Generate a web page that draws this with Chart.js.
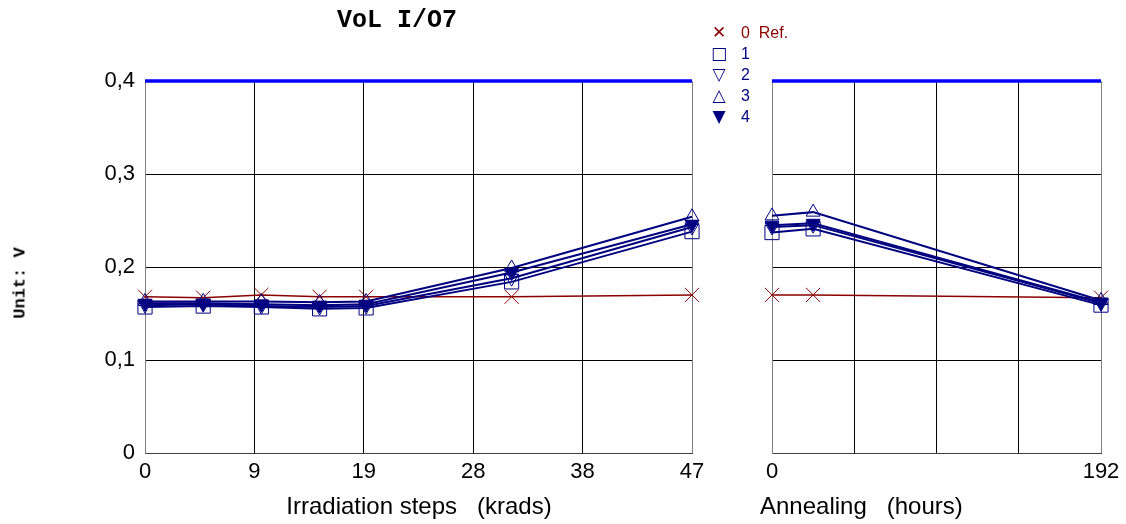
<!DOCTYPE html>
<html>
<head>
<meta charset="utf-8">
<script src="https://cdn.jsdelivr.net/npm/chart.js@4/dist/chart.umd.min.js"></script>
<style>
  body { margin: 0; background: #fff; width: 1126px; height: 524px; position: relative; overflow: hidden; }
  canvas { position: absolute; top: 0; }
  #left { left: 0; }
  #right { left: 730px; }
  #title { position: absolute; left: 337px; top: 6px; font: bold 25px "Liberation Mono", monospace; color: #000; white-space: pre; }
  .xt { position: absolute; top: 492px; font: 24px "Liberation Sans", Arial, sans-serif; color: #000; white-space: pre; line-height: 28px; }
  #xtLeft { left: 419px; transform: translateX(-50%); }
  #xtRight { left: 760px; }
  #ytitle { position: absolute; left: 20px; top: 283px; transform: translate(-50%, -50%) rotate(-90deg); font: bold 17px "Liberation Mono", monospace; white-space: pre; }
  #legend { position: absolute; left: 708px; top: 22px; font: 16px "Liberation Sans", Arial, sans-serif; }
  #legend div { height: 21px; line-height: 21px; white-space: pre; }
  #legend span.m { display: inline-block; width: 22px; text-align: center; font-family: "DejaVu Sans"; font-size: 17px; }
  #legend span.t { display: inline-block; margin-left: 11px; }
</style>
</head>
<body>
<canvas id="left" width="730" height="524"></canvas>
<canvas id="right" width="396" height="524"></canvas>
<div id="title">VoL I/O7</div>
<div id="ytitle">Unit: V</div>
<div class="xt" id="xtLeft">Irradiation steps   (krads)</div>
<div class="xt" id="xtRight">Annealing   (hours)</div>
<div id="legend"></div>
<script>
// x positions
const irrSteps = [0, 5, 10, 15, 19, 31.5, 47]
const annealHours = [0, 24, 192]

// tick labels
const irrTickLabels = ['0', '9', '19', '28', '38', '47']
const annealTickLabels = ['0', '', '', '', '192']
const yTickLabels = ['0', '0,1', '0,2', '0,3', '0,4']

// limit line
const limit = 0.4

// series, irradiation part
const refIrr = [0.168, 0.167, 0.170, 0.168, 0.168, 0.168, 0.170]
const s1Irr = [0.157, 0.158, 0.157, 0.155, 0.156, 0.184, 0.238]
const s2Irr = [0.159, 0.160, 0.158, 0.157, 0.158, 0.188, 0.243]
const s3Irr = [0.163, 0.163, 0.163, 0.162, 0.163, 0.199, 0.254]
const s4Irr = [0.161, 0.161, 0.160, 0.159, 0.160, 0.194, 0.246]

// series, annealing part
const refAnn = [0.170, 0.170, 0.167]
const s1Ann = [0.237, 0.241, 0.159]
const s2Ann = [0.243, 0.245, 0.161]
const s3Ann = [0.255, 0.259, 0.164]
const s4Ann = [0.245, 0.247, 0.162]

const seriesNames = ['0  Ref.', '1', '2', '3', '4']

const RED = '#8b0000'
const NAVY = '#000080'

const styles = [
  { color: RED, pointStyle: 'crossRot', radius: 10, rotation: 0, fill: 'transparent', width: 1.5, glyph: '\u2715' },
  { color: NAVY, pointStyle: 'rect', radius: 10, rotation: 0, fill: 'transparent', width: 2, glyph: '\u25a1' },
  { color: NAVY, pointStyle: 'triangle', radius: 8, rotation: 180, fill: 'transparent', width: 2, glyph: '\u25bd' },
  { color: NAVY, pointStyle: 'triangle', radius: 8, rotation: 0, fill: 'transparent', width: 2, glyph: '\u25b3' },
  { color: NAVY, pointStyle: 'triangle', radius: 8, rotation: 180, fill: NAVY, width: 2, glyph: '\u25bc' }
]

function pts(xs, ys) {
  return xs.map((x, i) => ({ x: x, y: ys[i] }))
}

function makeSets(xs, list, xmax) {
  var sets = list.map((ys, i) => {
    var s = styles[i]
    return {
      data: pts(xs, ys),
      borderColor: s.color,
      borderWidth: s.width,
      pointStyle: s.pointStyle,
      pointRadius: s.radius,
      pointRotation: s.rotation,
      pointBackgroundColor: s.fill,
      pointBorderColor: s.color,
      pointBorderWidth: 1,
      tension: 0,
      clip: false,
      order: 5 - i
    }
  })
  sets.push({
    data: [{ x: 0, y: limit }, { x: xmax, y: limit }],
    borderColor: '#0000ff',
    borderWidth: 3.5,
    pointRadius: 0,
    clip: false,
    order: 10
  })
  return sets
}

const tickFont = { family: '"Liberation Sans", Arial, sans-serif', size: 22 }

function yScale(showLabels) {
  return {
    type: 'linear',
    min: 0,
    max: 0.4,
    afterBuildTicks: s => { s.ticks = [0, 0.1, 0.2, 0.3, 0.4].map(v => ({ value: v })) },
    afterFit: s => { s.width = showLabels ? 145 : 0 },
    ticks: {
      display: showLabels,
      padding: 10,
      color: '#000',
      font: tickFont,
      callback: (v, i) => yTickLabels[i]
    },
    grid: { color: '#000', lineWidth: 1, drawTicks: false },
    border: { display: true, color: '#808080', width: 1 }
  }
}

function xScale(max, tickVals, labels) {
  return {
    type: 'linear',
    min: 0,
    max: max,
    afterBuildTicks: s => { s.ticks = tickVals.map(v => ({ value: v })) },
    afterFit: s => { s.height = 71 },
    ticks: {
      padding: 6,
      color: '#000',
      font: tickFont,
      maxRotation: 0,
      autoSkip: false,
      callback: (v, i) => labels[i]
    },
    grid: {
      color: c => (c.index === 0 || c.index === tickVals.length - 1) ? '#808080' : '#000',
      lineWidth: 1,
      drawTicks: false
    },
    border: { display: true, color: '#404040', width: 1 }
  }
}

const commonPlugins = { legend: { display: false }, tooltip: { enabled: false }, title: { display: false } }

new Chart(document.getElementById('left'), {
  type: 'line',
  data: { datasets: makeSets(irrSteps, [refIrr, s1Irr, s2Irr, s3Irr, s4Irr], 47) },
  options: {
    responsive: false,
    animation: false,
    layout: { padding: { left: 0, right: 38, top: 81, bottom: 0 } },
    scales: {
      x: xScale(47, [0, 9.4, 18.8, 28.2, 37.6, 47], irrTickLabels),
      y: yScale(true)
    },
    plugins: commonPlugins
  }
})

new Chart(document.getElementById('right'), {
  type: 'line',
  data: { datasets: makeSets(annealHours, [refAnn, s1Ann, s2Ann, s3Ann, s4Ann], 192) },
  options: {
    responsive: false,
    animation: false,
    layout: { padding: { left: 42, right: 25, top: 81, bottom: 0 } },
    scales: {
      x: xScale(192, [0, 48, 96, 144, 192], annealTickLabels),
      y: yScale(false)
    },
    plugins: commonPlugins
  }
})

// legend
var leg = document.getElementById('legend')
seriesNames.forEach((name, i) => {
  var row = document.createElement('div')
  row.style.color = styles[i].color
  row.innerHTML = '<span class="m">' + styles[i].glyph + '</span><span class="t">' + name + '</span>'
  leg.appendChild(row)
})
</script>
</body>
</html>
